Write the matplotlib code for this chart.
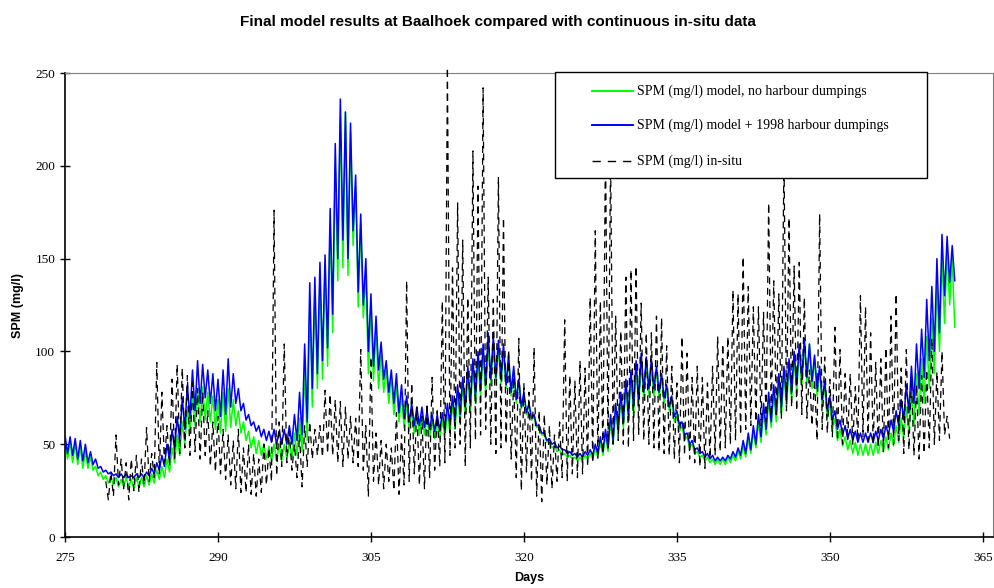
import numpy as np
import matplotlib
matplotlib.use("Agg")
import matplotlib.pyplot as plt
from matplotlib.patches import Rectangle
from matplotlib.lines import Line2D

# ---------------- data (half-day steps) ----------------
model_start, model_end = 275.0, 362.0
insitu_start, insitu_end = 279.0, 361.5

# model + 1998 harbour dumpings (blue): tidal highs / lows
blue_hi = [55, 54, 53, 52, 50, 46, 42, 38, 36, 35, 34, 34, 34, 33, 34, 34, 35, 37, 40, 44,
           50, 58, 65, 75, 82, 90, 95, 93, 90, 88, 85, 90, 96, 88, 80, 72, 66, 62, 60, 58,
           57, 58, 57, 58, 60, 66, 78, 104, 137, 140, 148, 152, 177, 212, 236, 229, 223, 195, 174, 150,
           131, 119, 105, 95, 90, 88, 82, 76, 72, 70, 70, 68, 66, 66, 67, 72, 76, 82, 86, 92,
           96, 100, 104, 110, 108, 106, 104, 98, 92, 85, 78, 72, 66, 60, 56, 53, 51, 49, 47, 46,
           45, 45, 46, 47, 50, 54, 58, 66, 72, 78, 85, 90, 95, 99, 97, 96, 92, 88, 82, 76,
           68, 62, 56, 52, 48, 46, 45, 44, 43, 43, 44, 46, 48, 52, 56, 60, 66, 72, 78, 82,
           88, 92, 96, 100, 104, 107, 104, 98, 92, 84, 76, 68, 63, 60, 58, 57, 56, 56, 56, 57,
           58, 60, 63, 68, 74, 82, 92, 104, 112, 128, 135, 150, 163, 162, 157]
blue_lo = [45, 44, 42, 41, 40, 39, 37, 35, 34, 33, 32, 32, 32, 32, 32, 32, 33, 34, 36, 38,
           42, 47, 52, 58, 64, 68, 72, 75, 72, 68, 65, 66, 70, 72, 68, 63, 60, 57, 54, 52,
           51, 50, 50, 50, 50, 52, 55, 62, 80, 88, 95, 102, 120, 150, 160, 150, 165, 132, 125, 100,
           92, 90, 85, 78, 72, 67, 64, 62, 60, 60, 59, 58, 57, 57, 58, 60, 63, 66, 70, 72,
           76, 80, 82, 85, 86, 85, 82, 78, 74, 70, 67, 64, 60, 56, 52, 50, 48, 47, 45, 44,
           43, 43, 44, 44, 45, 46, 48, 52, 58, 62, 66, 70, 74, 78, 80, 80, 78, 75, 70, 65,
           60, 55, 50, 47, 45, 43, 42, 41, 41, 41, 42, 43, 44, 45, 47, 50, 54, 58, 62, 66,
           70, 74, 78, 82, 85, 86, 84, 80, 74, 68, 63, 58, 55, 53, 52, 51, 51, 51, 51, 52,
           53, 55, 57, 60, 63, 67, 72, 80, 86, 95, 100, 110, 130, 137, 138]

# model, no harbour dumpings (green): tidal highs / lows
green_hi = [52, 51, 50, 48, 46, 43, 38, 35, 33, 32, 32, 31, 32, 31, 32, 32, 33, 34, 36, 38,
            42, 48, 55, 62, 70, 76, 80, 81, 78, 76, 74, 78, 80, 74, 68, 62, 57, 54, 52, 50,
            49, 50, 50, 50, 52, 56, 64, 90, 125, 132, 140, 145, 168, 200, 226, 229, 218, 189, 169, 142,
            124, 112, 98, 90, 86, 82, 76, 72, 68, 66, 66, 64, 63, 62, 63, 67, 72, 77, 82, 88,
            92, 95, 98, 104, 104, 102, 100, 95, 90, 84, 77, 71, 65, 59, 55, 52, 49, 47, 45, 44,
            43, 43, 44, 45, 48, 51, 55, 62, 68, 74, 80, 86, 90, 94, 94, 93, 90, 86, 80, 74,
            66, 60, 54, 50, 46, 44, 43, 42, 42, 42, 43, 44, 46, 49, 53, 57, 62, 68, 74, 78,
            84, 88, 92, 96, 100, 104, 104, 96, 90, 82, 73, 64, 58, 54, 52, 51, 50, 50, 50, 51,
            52, 54, 56, 60, 64, 70, 78, 88, 96, 108, 118, 135, 150, 155, 150]
green_lo = [42, 40, 39, 37, 37, 36, 33, 31, 29, 28, 27, 27, 27, 26, 27, 27, 28, 29, 31, 32,
            35, 40, 44, 50, 56, 60, 62, 63, 62, 58, 56, 57, 59, 60, 56, 52, 48, 45, 44, 42,
            41, 41, 41, 42, 42, 44, 46, 52, 70, 80, 85, 92, 110, 138, 145, 141, 157, 124, 118, 88,
            84, 80, 78, 72, 66, 62, 59, 57, 56, 55, 55, 54, 53, 53, 54, 56, 58, 62, 66, 68,
            72, 76, 78, 82, 83, 82, 80, 76, 72, 69, 66, 63, 59, 55, 51, 48, 46, 44, 43, 42,
            41, 41, 42, 42, 43, 44, 46, 50, 55, 59, 62, 66, 70, 74, 76, 76, 75, 72, 68, 62,
            57, 53, 48, 45, 43, 41, 40, 39, 39, 39, 40, 41, 42, 43, 45, 48, 51, 55, 59, 62,
            66, 70, 74, 78, 81, 82, 80, 76, 70, 64, 58, 52, 49, 47, 45, 44, 44, 44, 44, 45,
            46, 47, 49, 51, 53, 56, 60, 66, 72, 80, 88, 100, 115, 125, 113]

# in-situ measurements (black dashed): highs / lows
insitu_hi = [30, 35, 55, 42, 40, 42, 44, 42, 59, 45, 94, 78, 60, 85, 93, 91, 87, 83, 80, 78,
             68, 62, 65, 58, 55, 52, 58, 48, 50, 45, 42, 50, 48, 176, 62, 104, 57, 50, 55, 60,
             62, 58, 60, 79, 77, 74, 73, 70, 65, 64, 101, 60, 97, 56, 52, 50, 48, 67, 55, 138,
             83, 70, 65, 72, 86, 68, 127, 253, 145, 180, 160, 129, 208, 189, 242, 140, 128, 194, 172, 101,
             86, 107, 83, 78, 102, 68, 66, 60, 55, 62, 117, 87, 84, 95, 91, 129, 165, 127, 212, 205,
             119, 111, 140, 144, 146, 126, 110, 110, 119, 118, 103, 92, 83, 108, 99, 86, 92, 86, 83, 92,
             108, 104, 108, 133, 131, 151, 135, 124, 124, 121, 180, 138, 131, 205, 172, 146, 148, 129, 90, 85,
             174, 97, 85, 113, 101, 88, 88, 81, 130, 124, 110, 94, 96, 102, 119, 131, 91, 101, 85, 82,
             87, 90, 107, 89, 100, 65]
insitu_lo = [20, 22, 28, 26, 20, 25, 24, 28, 30, 32, 34, 40, 38, 42, 45, 48, 44, 46, 42, 44,
             38, 35, 34, 31, 28, 26, 24, 24, 23, 22, 24, 28, 30, 33, 38, 40, 36, 32, 27, 38,
             42, 44, 43, 45, 44, 40, 38, 42, 40, 38, 36, 22, 30, 28, 26, 30, 25, 23, 28, 30,
             34, 28, 26, 32, 36, 38, 40, 44, 48, 50, 38, 48, 52, 55, 58, 50, 45, 48, 50, 42,
             32, 25, 35, 30, 22, 19, 28, 26, 30, 32, 30, 34, 32, 34, 38, 40, 42, 45, 48, 50,
             52, 50, 48, 52, 55, 52, 50, 48, 46, 45, 44, 42, 40, 44, 42, 40, 38, 37, 42, 44,
             46, 48, 50, 52, 55, 58, 60, 62, 60, 62, 65, 66, 64, 68, 70, 68, 66, 64, 60, 52,
             58, 56, 54, 52, 50, 52, 50, 52, 54, 52, 50, 48, 46, 48, 50, 52, 45, 47, 44, 42,
             45, 48, 50, 52, 55, 53]

x_ticks = [275, 290, 305, 320, 335, 350, 365]
y_ticks = [0, 50, 100, 150, 200, 250]

labels = ["SPM (mg/l) model, no harbour dumpings",
          "SPM (mg/l) model + 1998 harbour dumpings",
          "SPM (mg/l) in-situ"]
title = "Final model results at Baalhoek compared with continuous in-situ data"


def zigzag(start, hi, lo):
    t = start + 0.5 * np.arange(len(hi))
    x = np.empty(2 * len(hi))
    y = np.empty(2 * len(hi))
    x[0::2], x[1::2] = t, t + 0.25
    y[0::2], y[1::2] = hi, lo
    return x, y


W, H = 995, 588
fig = plt.figure(figsize=(W / 100, H / 100), dpi=100)
L, R, T, B = 65, 993, 73, 537
ax = fig.add_axes([L / W, 1 - B / H, (R - L) / W, (B - T) / H])

serif = "Liberation Serif"
sans = "Liberation Sans"

xg, yg = zigzag(model_start, green_hi, green_lo)
xb, yb = zigzag(model_start, blue_hi, blue_lo)
xi, yi = zigzag(insitu_start, insitu_hi, insitu_lo)

ax.plot(xg, yg, color="#00FF00", lw=1.1, zorder=2)
ax.plot(xb, yb, color="#0000FF", lw=1.1, zorder=3)
ax.plot(xi, yi, color="black", lw=0.9, dashes=(5.5, 4), zorder=4, clip_on=False)

ax.set_xlim(275, 366)
ax.set_ylim(0, 250)
ax.set_xticks(x_ticks)
ax.set_yticks(y_ticks)
ax.tick_params(direction="inout", length=7, width=1, labelsize=9.5)
ax.tick_params(axis="x", pad=7)
for lab in ax.get_xticklabels() + ax.get_yticklabels():
    lab.set_fontfamily(serif)
ax.spines["top"].set_color("#808080")
ax.spines["right"].set_color("#808080")
for s in ["left", "bottom"]:
    ax.spines[s].set_color("black")
    ax.spines[s].set_linewidth(1.2)
ax.spines["bottom"].set_zorder(5)

# legend box (drawn in pixel-based axes fractions)
def fx(px):
    return (px - L) / (R - L)

def fy(py):
    return (B - py) / (B - T)

leg_l, leg_r, leg_t, leg_b = 555, 927, 72, 178
ax.add_patch(Rectangle((fx(leg_l), fy(leg_b)), fx(leg_r) - fx(leg_l), fy(leg_t) - fy(leg_b),
                       transform=ax.transAxes, facecolor="white", edgecolor="black",
                       lw=1.0, zorder=10, clip_on=False))
rows = [91, 125, 161]
styles = [dict(color="#00FF00", lw=1.4), dict(color="#0000FF", lw=1.4),
          dict(color="black", lw=1.0, dashes=(6, 5))]
for ry, st, lab in zip(rows, styles, labels):
    ax.add_line(Line2D([fx(592), fx(633)], [fy(ry), fy(ry)], transform=ax.transAxes,
                       zorder=11, clip_on=False, **st))
    ax.text(fx(637), fy(ry), lab, transform=ax.transAxes, fontfamily=serif, fontsize=10,
            va="center", ha="left", zorder=12)

fig.text(0.5, 1 - 22 / H, title, ha="center", va="center", fontfamily=sans,
         fontweight="bold", fontsize=11)
fig.text(18 / W, 1 - 305 / H, "SPM (mg/l)", rotation=90, ha="center", va="center",
         fontfamily=sans, fontweight="bold", fontsize=9)
fig.text(529 / W, 1 - 578 / H, "Days", ha="center", va="center",
         fontfamily=sans, fontweight="bold", fontsize=9)

fig.savefig("out.png", dpi=100)
